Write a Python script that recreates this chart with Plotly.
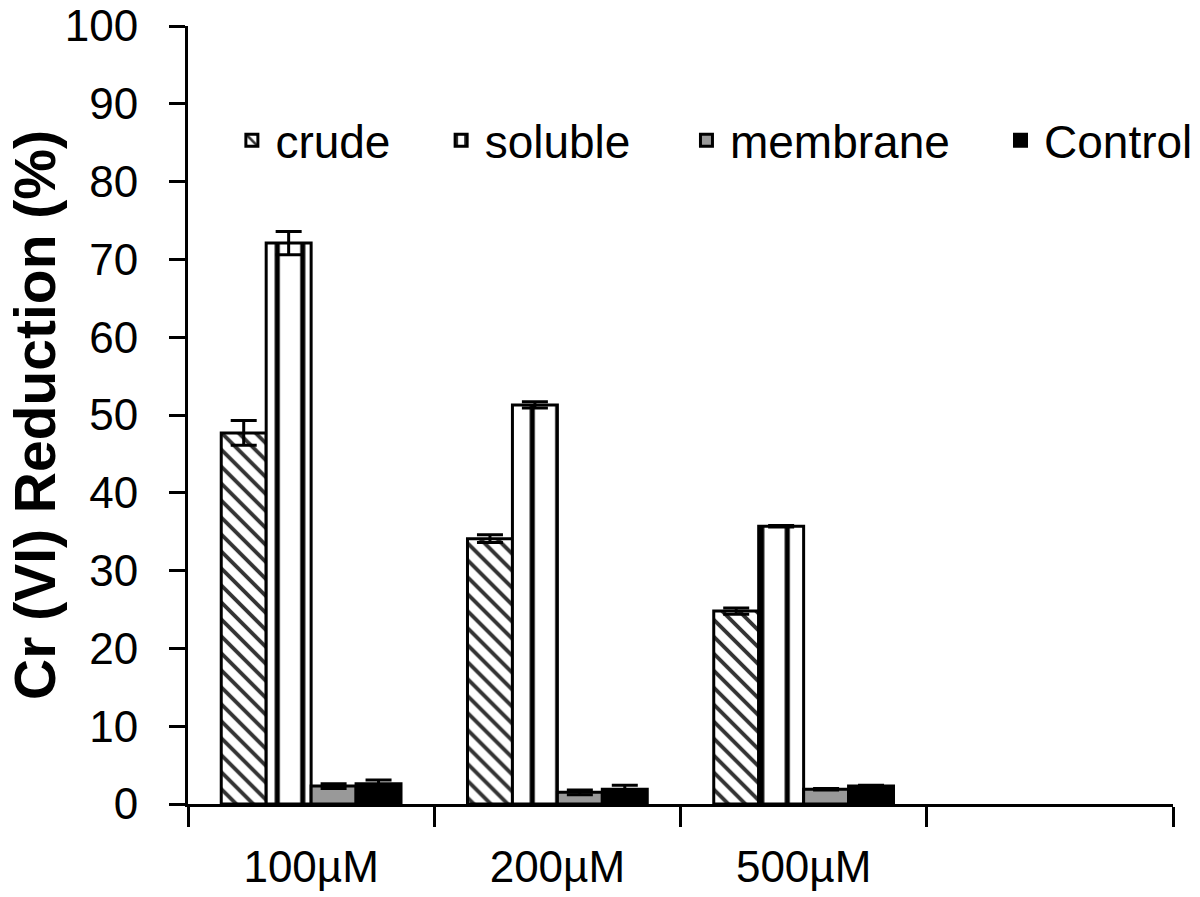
import plotly.graph_objects as go

categories = ["100µM", "200µM", "500µM"]
axis_categories = ["100µM", "200µM", "500µM", " "]

crude = [47.7, 34.1, 24.8]
crude_err = [1.6, 0.5, 0.4]
soluble = [72.1, 51.3, 35.7]
soluble_err = [1.5, 0.4, 0.1]
membrane = [2.3, 1.5, 1.9]
membrane_err = [0.3, 0.3, 0.1]
control = [2.6, 1.9, 2.3]
control_err = [0.5, 0.5, 0.1]

y_ticks = [0, 10, 20, 30, 40, 50, 60, 70, 80, 90, 100]
y_title = "<b>Cr (VI) Reduction (%)</b>"

PAD = "\u00a0\u00a0\u00a0"

fig = go.Figure()

def err(vals):
    return dict(type="data", array=vals, visible=True, color="black", thickness=3, width=13)

line = dict(color="black", width=3)

fig.add_trace(go.Bar(
    name="crude" + PAD + "\u200a", x=categories, y=crude, error_y=err(crude_err),
    marker=dict(color="white", line=line,
                pattern=dict(shape="\\", fgcolor="#333333", bgcolor="white", fgopacity=1,
                             size=12, solidity=0.32)),
))
fig.add_trace(go.Bar(
    name="soluble" + PAD + "\u2009", x=categories, y=soluble, error_y=err(soluble_err),
    marker=dict(color="white", line=line,
                pattern=dict(shape="|", fgcolor="black", bgcolor="white", fgopacity=1,
                             size=25.5, solidity=0.2)),
))
fig.add_trace(go.Bar(
    name="membrane" + PAD + "\u200a", x=categories, y=membrane, error_y=err(membrane_err),
    marker=dict(color="#999999", line=line),
))
fig.add_trace(go.Bar(
    name="Control", x=categories, y=control, error_y=err(control_err),
    marker=dict(color="black", line=line),
))

fig.update_layout(
    width=1200, height=897,
    margin=dict(l=180, r=35, t=18, b=101, autoexpand=False),
    paper_bgcolor="white", plot_bgcolor="white",
    barmode="group", bargap=0.27, bargroupgap=0,
    font=dict(family="Liberation Sans, Arial, sans-serif", size=44, color="black"),
    legend=dict(orientation="h", x=0.041, y=0.853, xanchor="left", yanchor="middle",
                font=dict(size=46), bgcolor="rgba(0,0,0,0)", itemwidth=37),
    showlegend=True,
)
fig.add_annotation(
    text=y_title, textangle=-90, xref="paper", yref="paper",
    x=-0.1553, y=0.5, xanchor="center", yanchor="middle", showarrow=False,
    font=dict(size=57, color="black"),
)
fig.update_xaxes(
    type="category", categoryorder="array", categoryarray=axis_categories,
    range=[-0.5, 3.5], tickson="boundaries", ticks="outside", ticklen=20, tickwidth=3,
    tickcolor="black", showline=True, linecolor="black", linewidth=3,
    showgrid=False, zeroline=False, ticklabelstandoff=22, automargin=False,
    tickfont=dict(size=44), ticklabeloverflow="allow",
)
fig.update_yaxes(
    range=[0, 100], tickvals=y_ticks, ticks="outside", ticklen=16, tickwidth=3,
    tickcolor="black", showline=True, linecolor="black", linewidth=3,
    showgrid=False, zeroline=False, ticklabelstandoff=22, automargin=False,
    tickfont=dict(size=44), ticklabeloverflow="allow",
)

fig.write_html("out.html")
